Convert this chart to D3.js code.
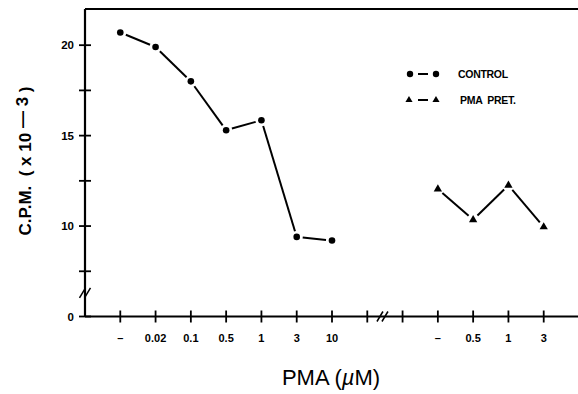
<!DOCTYPE html>
<html>
<head>
<meta charset="utf-8">
<script src="https://cdn.jsdelivr.net/npm/d3@7"></script>
<style>
  body { margin: 0; background: #fff; }
  svg { display: block; font-family: Arial, "Liberation Sans", sans-serif; }
</style>
</head>
<body>
<svg width="578" height="394"></svg>
<script>
// x positions are category slots along the axis
const xLabels = ['', '\u2013', '0.02', '0.1', '0.5', '1', '3', '10', '', '', '\u2013', '0.5', '1', '3'];
const controlSlots = [1, 2, 3, 4, 5, 6, 7];
const controlValues = [20.7, 19.9, 18.0, 15.3, 15.85, 9.4, 9.2];
const pretSlots = [10, 11, 12, 13];
const pretValues = [12.05, 10.35, 12.25, 9.95];
// y axis has a break: "0" sits where 5 would be
const yTickValues = [5, 7.5, 10, 12.5, 15, 17.5, 20];
const yTickLabels = {5: '0', 10: '10', 15: '15', 20: '20'};

const svg = d3.select('svg');
const x = d3.scaleLinear().domain([0, 14]).range([85, 579]);
const y = d3.scaleLinear().domain([5, 22]).range([316.5, 9]);

const g = svg.append('g');

// frame: top line
g.append('line')
  .attr('x1', x(0)).attr('x2', 578)
  .attr('y1', y(22)).attr('y2', y(22))
  .attr('stroke', '#000').attr('stroke-width', 2.2);

// y axis
g.append('line')
  .attr('x1', x(0)).attr('x2', x(0))
  .attr('y1', y(22)).attr('y2', y(5))
  .attr('stroke', '#000').attr('stroke-width', 2.2);
g.selectAll('.ytick').data(yTickValues).enter().append('line')
  .attr('x1', x(0) - 6).attr('x2', x(0) + 6)
  .attr('y1', d => y(d)).attr('y2', d => y(d))
  .attr('stroke', '#000').attr('stroke-width', 1.8);
g.selectAll('.ylab').data(yTickValues.filter(d => yTickLabels[d])).enter().append('text')
  .attr('x', x(0) - 11).attr('y', d => y(d) + 4)
  .attr('text-anchor', 'end')
  .attr('font-size', 11.5).attr('font-weight', 'bold')
  .text(d => yTickLabels[d]);

// x axis
g.append('line')
  .attr('x1', x(0)).attr('x2', 578)
  .attr('y1', y(5)).attr('y2', y(5))
  .attr('stroke', '#000').attr('stroke-width', 2.2);
g.selectAll('.xtick').data(d3.range(1, 14)).enter().append('line')
  .attr('x1', d => x(d)).attr('x2', d => x(d))
  .attr('y1', y(5) - 6).attr('y2', y(5) + 6)
  .attr('stroke', '#000').attr('stroke-width', 1.8);
g.selectAll('.xlab').data(d3.range(1, 14).filter(i => xLabels[i])).enter().append('text')
  .attr('x', d => x(d)).attr('y', y(5) + 25)
  .attr('text-anchor', 'middle')
  .attr('font-size', 11).attr('font-weight', 'bold')
  .text(d => xLabels[d]);

// break marks
function breakMark(cx, cy) {
  [-2.5, 2.5].forEach(o => {
    g.append('line')
      .attr('x1', cx + o - 3).attr('y1', cy + 5)
      .attr('x2', cx + o + 3).attr('y2', cy - 5)
      .attr('stroke', '#000').attr('stroke-width', 1.5);
  });
}
breakMark(x(8.43), y(5));
breakMark(x(0), y(6.3));

// segments with small gaps at the markers
function drawSeries(slots, vals) {
  const pts = slots.map((s, i) => [x(s), y(vals[i])]);
  for (let i = 0; i < pts.length - 1; i++) {
    const [x1, y1] = pts[i], [x2, y2] = pts[i + 1];
    const len = Math.hypot(x2 - x1, y2 - y1), gap = 6;
    const ux = (x2 - x1) / len, uy = (y2 - y1) / len;
    g.append('line')
      .attr('x1', x1 + ux * gap).attr('y1', y1 + uy * gap)
      .attr('x2', x2 - ux * gap).attr('y2', y2 - uy * gap)
      .attr('stroke', '#000').attr('stroke-width', 2);
  }
  return pts;
}
const cPts = drawSeries(controlSlots, controlValues);
g.selectAll('.cpt').data(cPts).enter().append('circle')
  .attr('cx', d => d[0]).attr('cy', d => d[1]).attr('r', 3.3).attr('fill', '#000');

const tri = d3.symbol().type(d3.symbolTriangle).size(30);
const pPts = drawSeries(pretSlots, pretValues);
g.selectAll('.ppt').data(pPts).enter().append('path')
  .attr('d', tri).attr('transform', d => `translate(${d[0]},${d[1]})`).attr('fill', '#000');

// legend
const lg = svg.append('g');
lg.selectAll('.lc').data([410, 436]).enter().append('circle')
  .attr('cx', d => d).attr('cy', 74).attr('r', 3.2).attr('fill', '#000');
lg.append('line').attr('x1', 418).attr('x2', 428).attr('y1', 74).attr('y2', 74)
  .attr('stroke', '#000').attr('stroke-width', 2);
lg.append('text').attr('x', 458).attr('y', 77.5).attr('font-size', 10.5).attr('font-weight', 'bold')
  .attr('letter-spacing', -0.3).text('CONTROL');
lg.selectAll('.lt').data([409, 436]).enter().append('path')
  .attr('d', d3.symbol().type(d3.symbolTriangle).size(22))
  .attr('transform', d => `translate(${d},100)`).attr('fill', '#000');
lg.append('line').attr('x1', 418).attr('x2', 428).attr('y1', 100).attr('y2', 100)
  .attr('stroke', '#000').attr('stroke-width', 2);
lg.append('text').attr('x', 460).attr('y', 104).attr('font-size', 10.5).attr('font-weight', 'bold')
  .attr('letter-spacing', -0.3).attr('xml:space', 'preserve').text('PMA  PRET.');

// axis titles
const yt = svg.append('text')
  .attr('transform', 'translate(31,161) rotate(-90)')
  .attr('text-anchor', 'middle')
  .attr('font-size', 17).attr('font-weight', 'bold')
  .attr('xml:space', 'preserve');
yt.append('tspan').text('C.P.M.  ( x 10 ');
yt.append('tspan').attr('dy', -3).text('\u2014 3');
yt.append('tspan').attr('dy', 3).text(' )');

const xt = svg.append('text')
  .attr('x', 331).attr('y', 385)
  .attr('text-anchor', 'middle')
  .attr('font-size', 22);
xt.append('tspan').text('PMA (');
xt.append('tspan').attr('font-style', 'italic').text('\u00b5');
xt.append('tspan').text('M)');
</script>
</body>
</html>
